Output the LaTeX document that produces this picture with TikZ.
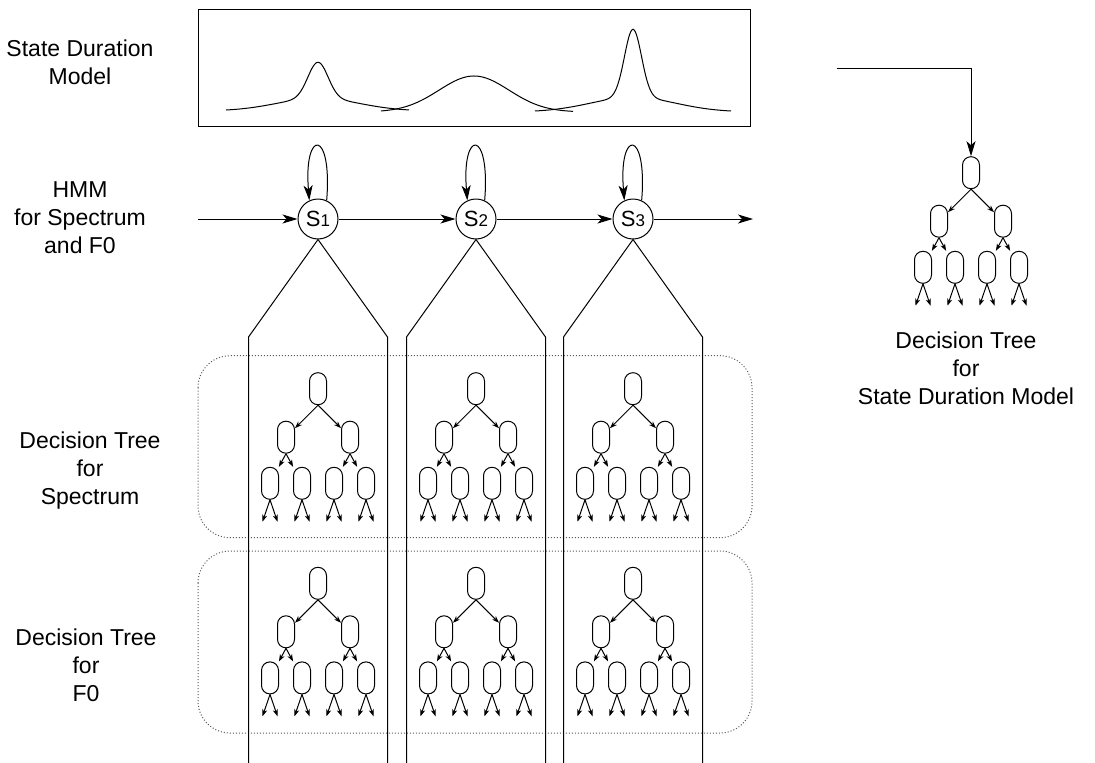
\documentclass[tikz,border=0pt]{standalone}
\usepackage{fontspec}
\setmainfont{Liberation Sans}
\usetikzlibrary{arrows.meta}
\newcommand\dtree[3]{%
  \node[leafbox] (#3r) at (#1, #2+16) {};
  \node[leafbox] (#3a) at (#1-32, #2+64.5) {};
  \node[leafbox] (#3b) at (#1+32, #2+64.5) {};
  \node[leafbox] (#3c) at (#1-48, #2+110.6) {};
  \node[leafbox] (#3d) at (#1-16, #2+110.6) {};
  \node[leafbox] (#3e) at (#1+16, #2+110.6) {};
  \node[leafbox] (#3f) at (#1+48, #2+110.6) {};
  \draw[smallarr] (#3r.south) -- (#3a);
  \draw[smallarr] (#3r.south) -- (#3b);
  \draw[smallarr] (#3a.south) -- (#3c);
  \draw[smallarr] (#3a.south) -- (#3d);
  \draw[smallarr] (#3b.south) -- (#3e);
  \draw[smallarr] (#3b.south) -- (#3f);
  \foreach \n/\xx in {c/-48,d/-16,e/16,f/48}{
    \coordinate (#3\n L) at (#1+\xx-7.5, #2+149);
    \coordinate (#3\n R) at (#1+\xx+7.5, #2+149);
    \draw[smallarr] (#3\n.south) -- (#3\n L);
    \draw[smallarr] (#3\n.south) -- (#3\n R);
  }%
}
\begin{document}
\begin{tikzpicture}[x=1pt,y=-1pt,
  declare function={g(\t,\m,\s)=exp(-0.5*((\t-\m)/\s)*((\t-\m)/\s));},
  lbl/.style={align=center, font=\fontsize{23}{28}\selectfont, inner sep=0pt},
  st/.style={circle, draw, line width=1pt, minimum size=40pt, inner sep=0pt, font=\fontsize{22}{26}\selectfont},
  bigarr/.style={-{Stealth[length=15pt,width=9pt,inset=4pt]}, line width=1pt},
  leafbox/.style={draw, line width=1pt, minimum width=17pt, minimum height=32pt, rounded corners=8.4pt, inner sep=0pt},
  smallarr/.style={-{Stealth[length=7pt,width=5pt,inset=2pt]}, line width=1pt},
  grp/.style={draw=black!65, dotted, line width=1pt, rounded corners=32pt},
  ln/.style={line width=1pt}
]
\useasboundingbox (0,0) rectangle (1095,763);

% group boxes
\draw[grp] (198,355.7) rectangle (752,537.7);
\draw[grp] (198,551) rectangle (752,733);

% state duration model box
\draw[ln] (198.3,9.3) rectangle (750,126.7);
\draw[ln] plot[domain=226:409, samples=150, smooth] (\x, {111-36*g(\x,318,10)-12.7*g(\x,318,40.8)});
\draw[ln] plot[domain=381:573, samples=150, smooth] (\x, {112-36*g(\x,474,35)});
\draw[ln] plot[domain=535:731, samples=150, smooth] (\x, {112-68*g(\x,633,8.5)-14.7*g(\x,633,42.3)});

% labels
\node[lbl] (l1) at (80,62) {State Duration\\Model};
\node[lbl] (l2) at (80,218) {HMM\\for Spectrum\\and F0};
\node[lbl] (l3) at (90,471) {Decision Tree\\for\\Spectrum};
\node[lbl] (l4) at (86,665) {Decision Tree\\for\\F0};
\node[lbl] (l5) at (966,368) {Decision Tree\\for\\State Duration Model};

% HMM states
\node[st] (s1) at (318,219) {S{\fontsize{17}{17}\selectfont 1}};
\node[st] (s2) at (476,219) {S{\fontsize{17}{17}\selectfont 2}};
\node[st] (s3) at (633,219) {S{\fontsize{17}{17}\selectfont 3}};
\coordinate (hin) at (198,219);
\coordinate (hout) at (753,219);
\draw[bigarr] (hin) -- (s1);
\draw[bigarr] (s1) -- (s2);
\draw[bigarr] (s2) -- (s3);
\draw[bigarr] (s3) -- (hout);
\foreach \s in {s1,s2,s3}{
  \draw[bigarr] (\s.65) .. controls +(6,-72) and +(-6,-72) .. (\s.115);
}

% columns
\foreach \s/\cx in {s1/318,s2/476,s3/633}{
  \coordinate (\s L) at (\cx-69.5,337);
  \coordinate (\s R) at (\cx+69.5,337);
  \coordinate (\s LB) at (\cx-69.5,765);
  \coordinate (\s RB) at (\cx+69.5,765);
  \draw[ln] (\s.south) -- (\s L) -- (\s LB);
  \draw[ln] (\s.south) -- (\s R) -- (\s RB);
}

% trees
\dtree{318}{372.7}{A}
\dtree{476}{372.7}{B}
\dtree{633}{372.7}{C}
\dtree{318}{567.3}{D}
\dtree{476}{567.3}{E}
\dtree{633}{567.3}{F}
\dtree{971}{156.7}{R}

% duration arrow
\coordinate (dstart) at (836.7,68);
\coordinate (dcorner) at (971,68);
\draw[bigarr] (dstart) -- (dcorner) -- (Rr);
\end{tikzpicture}
\end{document}
